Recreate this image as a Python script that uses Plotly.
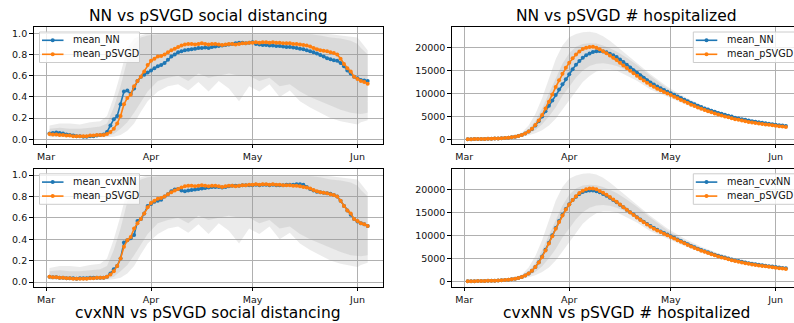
import plotly.graph_objects as go
import pandas as pd

# ---------------- data ----------------
days = pd.date_range("2020-03-02", "2020-06-04", freq="D")
month_ticks = ["2020-03-01", "2020-04-01", "2020-05-01", "2020-06-01"]
month_labels = ["Mar", "Apr", "May", "Jun"]

sd_pSVGD = [
    0.050, 0.045, 0.045, 0.040, 0.040, 0.035, 0.035, 0.030, 0.030, 0.030, 0.030, 0.030, 0.035, 0.035, 0.040, 0.040, 0.040,
    0.050, 0.070, 0.100, 0.150, 0.220, 0.330, 0.390, 0.420, 0.500, 0.550, 0.590, 0.640, 0.700,
    0.740, 0.760, 0.780, 0.785, 0.800, 0.820, 0.840, 0.855, 0.870, 0.885, 0.895, 0.900, 0.900, 0.895, 0.900,
    0.905, 0.900, 0.895, 0.900, 0.900, 0.895, 0.890, 0.895, 0.900, 0.900, 0.895, 0.900, 0.905, 0.905, 0.910,
    0.910, 0.915, 0.910, 0.915, 0.915, 0.910, 0.915, 0.910, 0.910, 0.905, 0.905, 0.905, 0.900, 0.900, 0.895,
    0.890, 0.885, 0.875, 0.860, 0.850, 0.840, 0.835, 0.830, 0.820, 0.815, 0.800, 0.760, 0.710, 0.670, 0.640, 0.590,
    0.570, 0.550, 0.540, 0.525,
]
sd_NN = [
    0.055, 0.060, 0.065, 0.060, 0.055, 0.045, 0.040, 0.035, 0.030, 0.030, 0.025, 0.025, 0.030, 0.030, 0.035, 0.040, 0.045,
    0.070, 0.130, 0.190, 0.220, 0.330, 0.450, 0.460, 0.430, 0.480, 0.550, 0.590, 0.610, 0.630,
    0.650, 0.670, 0.690, 0.700, 0.720, 0.750, 0.780, 0.800, 0.820, 0.830, 0.840, 0.845, 0.850, 0.855, 0.860,
    0.860, 0.865, 0.860, 0.870, 0.875, 0.880, 0.885, 0.890, 0.895, 0.900, 0.905, 0.910, 0.910, 0.905, 0.910,
    0.915, 0.900, 0.895, 0.890, 0.890, 0.885, 0.885, 0.880, 0.880, 0.875, 0.870, 0.870, 0.865, 0.860, 0.855,
    0.850, 0.840, 0.830, 0.820, 0.810, 0.795, 0.780, 0.765, 0.755, 0.745, 0.740, 0.720, 0.690, 0.650, 0.620, 0.590,
    0.575, 0.560, 0.555, 0.550,
]
sd_cvxNN = [
    0.050, 0.045, 0.045, 0.040, 0.040, 0.035, 0.035, 0.035, 0.030, 0.035, 0.035, 0.035, 0.040, 0.040, 0.040, 0.040, 0.040,
    0.050, 0.080, 0.120, 0.150, 0.220, 0.370, 0.390, 0.410, 0.440, 0.570, 0.590, 0.640, 0.710,
    0.730, 0.750, 0.760, 0.770, 0.800, 0.820, 0.850, 0.865, 0.870, 0.855, 0.850, 0.855, 0.860, 0.865, 0.870,
    0.875, 0.880, 0.885, 0.890, 0.890, 0.890, 0.885, 0.890, 0.895, 0.900, 0.900, 0.900, 0.905, 0.905, 0.905,
    0.905, 0.910, 0.905, 0.910, 0.910, 0.905, 0.910, 0.905, 0.905, 0.905, 0.910, 0.910, 0.910, 0.915, 0.915,
    0.910, 0.890, 0.870, 0.855, 0.845, 0.840, 0.835, 0.830, 0.825, 0.815, 0.800, 0.760, 0.710, 0.670, 0.630, 0.590,
    0.565, 0.550, 0.540, 0.525,
]

hosp_pSVGD = [
    20, 30, 40, 50, 65, 80, 100, 125, 150, 190, 230, 290, 360, 450, 570, 730, 950,
    1250, 1700, 2300, 3100, 4100, 5300, 6700, 8200, 9800, 11400, 12900, 14300, 15600,
    16700, 17700, 18500, 19200, 19700, 20000, 20150, 20200, 20000, 19650, 19250, 18800, 18300, 17800, 17300,
    16700, 16100, 15550, 14950, 14400, 13850, 13350, 12850, 12350, 11850, 11450, 11050, 10700, 10350, 10000,
    9650, 9300, 8950, 8600, 8250, 7900, 7550, 7250, 6950, 6650, 6400, 6150, 5900, 5650, 5400,
    5200, 5000, 4800, 4600, 4400, 4250, 4100, 3950, 3800, 3650, 3550, 3450, 3350, 3250, 3150, 3050,
    2950, 2850, 2780, 2700,
]
hosp_NN = [
    20, 30, 40, 50, 65, 80, 100, 125, 150, 190, 230, 290, 360, 450, 570, 730, 950,
    1250, 1680, 2250, 3000, 3950, 5000, 6150, 7300, 8450, 9650, 10850, 12000, 13100,
    14200, 15300, 16300, 17100, 17800, 18350, 18750, 19050, 19250, 19300, 19200, 19000, 18700, 18350, 17950,
    17450, 16900, 16300, 15700, 15100, 14550, 14000, 13450, 12900, 12400, 11950, 11550, 11150, 10750, 10400,
    10050, 9700, 9350, 9000, 8650, 8300, 7950, 7650, 7350, 7050, 6750, 6500, 6250, 6000, 5750,
    5550, 5350, 5150, 4950, 4700, 4550, 4400, 4250, 4100, 3950, 3850, 3700, 3600, 3480, 3380, 3280,
    3180, 3080, 3000, 2920,
]
hosp_cvxNN = [
    20, 30, 40, 50, 65, 80, 100, 125, 150, 190, 230, 290, 360, 450, 570, 730, 950,
    1250, 1700, 2300, 3100, 4150, 5400, 6850, 8400, 10000, 11600, 13100, 14450, 15700,
    16750, 17650, 18400, 19000, 19400, 19650, 19750, 19750, 19600, 19350, 19000, 18600, 18150, 17700, 17200,
    16650, 16100, 15550, 15000, 14500, 13950, 13450, 12950, 12450, 12000, 11600, 11200, 10850, 10500, 10150,
    9800, 9450, 9100, 8750, 8400, 8050, 7700, 7400, 7100, 6800, 6550, 6300, 6050, 5800, 5550,
    5350, 5150, 4950, 4750, 4550, 4400, 4250, 4100, 3950, 3800, 3700, 3600, 3500, 3400, 3300, 3200,
    3100, 3000, 2920, 2840,
]

# uncertainty bands (sparse sample dates)
sd_band_dates = [
    "2020-03-02", "2020-03-05", "2020-03-08", "2020-03-11", "2020-03-14", "2020-03-17", "2020-03-19",
    "2020-03-21", "2020-03-23", "2020-03-25", "2020-03-27", "2020-03-29", "2020-03-31", "2020-04-03",
    "2020-04-06", "2020-04-09", "2020-04-12", "2020-04-15", "2020-04-18", "2020-04-21", "2020-04-24",
    "2020-04-27", "2020-04-30", "2020-05-03", "2020-05-06", "2020-05-09", "2020-05-12", "2020-05-15",
    "2020-05-18", "2020-05-21", "2020-05-24", "2020-05-27", "2020-05-30", "2020-06-01", "2020-06-02",
    "2020-06-04",
]
sd_band1_hi = [0.13, 0.15, 0.15, 0.14, 0.16, 0.17, 0.22, 0.40, 0.62, 0.86, 0.95, 0.98, 1.0, 1.0, 1.0, 1.0, 1.0, 1.0,
               1.0, 1.0, 1.0, 1.0, 1.0, 1.0, 1.0, 1.0, 1.0, 1.0, 1.0, 1.0, 0.99, 0.98, 0.97, 0.96, 0.92, 0.84]
sd_band1_lo = [0.02, 0.02, 0.015, 0.015, 0.015, 0.02, 0.02, 0.025, 0.04, 0.08, 0.15, 0.26, 0.36, 0.45, 0.50, 0.52,
               0.46, 0.54, 0.45, 0.55, 0.48, 0.36, 0.50, 0.45, 0.52, 0.40, 0.46, 0.36, 0.30, 0.25, 0.20, 0.17, 0.15,
               0.14, 0.16, 0.18]
sd_band2_hi = [0.10, 0.11, 0.10, 0.10, 0.11, 0.12, 0.15, 0.30, 0.50, 0.75, 0.90, 0.96, 0.98, 0.99, 0.99, 0.99, 0.99,
               0.99, 0.99, 0.99, 0.99, 0.99, 0.99, 0.99, 0.99, 0.99, 0.99, 0.99, 0.99, 0.98, 0.96, 0.95, 0.93, 0.90,
               0.86, 0.80]
sd_band2_lo = [0.03, 0.03, 0.02, 0.02, 0.02, 0.025, 0.03, 0.05, 0.10, 0.16, 0.25, 0.35, 0.45, 0.55, 0.58, 0.60, 0.55,
               0.62, 0.58, 0.60, 0.62, 0.60, 0.60, 0.55, 0.58, 0.50, 0.52, 0.45, 0.40, 0.36, 0.32, 0.28, 0.25, 0.24,
               0.24, 0.25]

hosp_band_dates = [
    "2020-03-02", "2020-03-10", "2020-03-15", "2020-03-18", "2020-03-20", "2020-03-22", "2020-03-24",
    "2020-03-26", "2020-03-28", "2020-03-30", "2020-04-01", "2020-04-03", "2020-04-05", "2020-04-07",
    "2020-04-09", "2020-04-11", "2020-04-13", "2020-04-15", "2020-04-18", "2020-04-21", "2020-04-25",
    "2020-04-30", "2020-05-05", "2020-05-10", "2020-05-15", "2020-05-20", "2020-05-25", "2020-05-30",
    "2020-06-04",
]
hosp_band1_lo = [0, 100, 350, 600, 900, 1300, 2000, 3000, 4500, 6500, 8500, 10500, 12500, 13800, 14800, 15200,
                 15200, 15000, 13900, 12800, 10900, 9300, 7700, 6300, 5100, 4150, 3450, 2900, 2450]
hosp_band1_hi = [50, 250, 700, 1500, 3000, 5500, 9000, 13500, 17500, 20500, 22300, 23000, 23400, 23500, 23200,
                 22500, 21500, 20300, 18500, 16800, 14200, 11500, 9300, 7500, 6100, 5000, 4150, 3500, 3000]
hosp_band2_lo = [0, 120, 380, 750, 1200, 2000, 3300, 5000, 7000, 9500, 11500, 13500, 15000, 16000, 16500, 16600,
                 16400, 16000, 15100, 14000, 12200, 10000, 8100, 6500, 5250, 4300, 3550, 2950, 2500]
hosp_band2_hi = [30, 200, 550, 1200, 2200, 4000, 6800, 10000, 13300, 16500, 18800, 20200, 20800, 21000, 20900,
                 20500, 19900, 19200, 17800, 16200, 13800, 11100, 8950, 7250, 5900, 4850, 4050, 3400, 2950]

titles_top = ["NN vs pSVGD social distancing", "NN vs pSVGD # hospitalized"]
titles_bottom = ["cvxNN vs pSVGD social distancing", "cvxNN vs pSVGD # hospitalized"]

# ---------------- layout helpers ----------------
W, H = 794, 323
BLUE, ORANGE = "#1f77b4", "#ff7f0e"
BAND = "rgba(150,150,150,0.19)"
FONT = "DejaVu Sans"


def px(x):
    return x / W


def py(y):
    return 1 - y / H


t0 = pd.Timestamp("2020-03-01") - pd.Timedelta(days=3.72)
PPD = 3.385  # pixels per day


def xrange_for(width_px):
    return [str(t0), str(t0 + pd.Timedelta(days=width_px / PPD))]


fig = go.Figure()
shapes = []
annotations = []

panels = [
    # (axis suffix, x px, y px, kind, series, legend left/right px)
    ("", (33.5, 383.3), (26.7, 144.0), "sd", [("mean_NN", sd_NN, BLUE), ("mean_pSVGD", sd_pSVGD, ORANGE)], (39.5, 139.5)),
    ("2", (451.7, 794.0), (26.7, 144.0), "hosp", [("mean_NN", hosp_NN, BLUE), ("mean_pSVGD", hosp_pSVGD, ORANGE)], (693.3, 800.0)),
    ("3", (33.5, 383.3), (168.5, 286.7), "sd", [("mean_cvxNN", sd_cvxNN, BLUE), ("mean_pSVGD", sd_pSVGD, ORANGE)], (39.5, 139.5)),
    ("4", (451.7, 794.0), (168.5, 286.7), "hosp", [("mean_cvxNN", hosp_cvxNN, BLUE), ("mean_pSVGD", hosp_pSVGD, ORANGE)], (693.3, 800.0)),
]

axis_common = dict(showgrid=True, gridcolor="#b0b0b0", gridwidth=0.8, zeroline=False,
                   showline=True, linecolor="black", linewidth=0.8,
                   ticks="outside", ticklen=3.5, tickwidth=0.8, tickcolor="black",
                   tickfont=dict(family=FONT, size=9.5, color="#111"))

for suf, (xa, xb), (yt, yb), kind, series, (lx0, lx1) in panels:
    xref, yref = "x" + suf, "y" + suf
    if kind == "sd":
        bd = sd_band_dates
        bands = [(sd_band1_lo, sd_band1_hi), (sd_band2_lo, sd_band2_hi)]
    else:
        bd = hosp_band_dates
        bands = [(hosp_band1_lo, hosp_band1_hi), (hosp_band2_lo, hosp_band2_hi)]
    for lo, hi in bands:
        fig.add_trace(go.Scatter(x=bd, y=lo, mode="lines", line=dict(width=0, color=BAND),
                                 showlegend=False, hoverinfo="skip", xaxis=xref, yaxis=yref))
        fig.add_trace(go.Scatter(x=bd, y=hi, mode="lines", line=dict(width=0, color=BAND),
                                 fill="tonexty", fillcolor=BAND, showlegend=False, hoverinfo="skip",
                                 xaxis=xref, yaxis=yref))
    for name, vals, col in series:
        fig.add_trace(go.Scatter(x=days, y=vals, mode="lines+markers", name=name,
                                 line=dict(color=col, width=1.6),
                                 marker=dict(color=col, size=4),
                                 showlegend=False, xaxis=xref, yaxis=yref))

    fig.update_layout(**{
        "xaxis" + suf: dict(axis_common, domain=[px(xa), px(xb)], anchor=yref, mirror=True,
                            range=xrange_for(xb - xa), tickmode="array",
                            tickvals=month_ticks, ticktext=month_labels, ticklabelstandoff=0),
    })
    if kind == "sd":
        ycfg = dict(axis_common, domain=[py(yb), py(yt)], anchor=xref, mirror=True,
                    range=[-0.044, 1.062], tick0=0, dtick=0.2, tickformat=".1f")
    else:
        rng = [-1030, 24590] if suf == "2" else [-1170, 24520]
        ycfg = dict(axis_common, domain=[py(yb), py(yt)], anchor=xref, mirror=False,
                    range=rng, tick0=0, dtick=5000, tickformat="d")
    fig.update_layout(**{"yaxis" + suf: ycfg})

    # legend box drawn by hand (matplotlib style)
    top = yt + 5.3
    shapes.append(dict(type="rect", xref="paper", yref="paper",
                       x0=px(lx0), x1=px(lx1), y0=py(top + 30.5), y1=py(top),
                       fillcolor="rgba(255,255,255,0.8)", line=dict(color="#cccccc", width=1), layer="above"))
    for i, (name, vals, col) in enumerate(series):
        ey = top + 8.3 + 14.0 * i
        shapes.append(dict(type="line", xref="paper", yref="paper",
                           x0=px(lx0 + 2.5), x1=px(lx0 + 24), y0=py(ey), y1=py(ey),
                           line=dict(color=col, width=1.6), layer="above"))
        cx = lx0 + 13.2
        shapes.append(dict(type="circle", xref="paper", yref="paper",
                           x0=px(cx - 2), x1=px(cx + 2), y0=py(ey + 2), y1=py(ey - 2),
                           fillcolor=col, line=dict(color=col, width=0), layer="above"))
        annotations.append(dict(text=name, x=px(lx0 + 31.5), y=py(ey), xref="paper", yref="paper",
                                xanchor="left", yanchor="middle", showarrow=False,
                                font=dict(family=FONT, size=9.7, color="#111")))

for text, cx in zip(titles_top, [208.4, 626.7]):
    annotations.append(dict(text=text, x=px(cx), y=py(15.5), xref="paper", yref="paper",
                            xanchor="center", yanchor="middle", showarrow=False,
                            font=dict(family=FONT, size=15.5, color="black")))
for text, cx in zip(titles_bottom, [208.4, 626.7]):
    annotations.append(dict(text=text, x=px(cx), y=py(312.5), xref="paper", yref="paper",
                            xanchor="center", yanchor="middle", showarrow=False,
                            font=dict(family=FONT, size=15.5, color="black")))

fig.update_layout(
    width=W, height=H, autosize=False,
    margin=dict(l=0, r=0, t=0, b=0, autoexpand=False),
    paper_bgcolor="white", plot_bgcolor="white",
    font=dict(family=FONT),
    annotations=annotations,
    shapes=shapes,
    showlegend=False,
)

fig.write_html("out.html",
               config={"displayModeBar": False},
               post_script="document.body.style.margin='0';document.body.style.overflow='hidden';")
